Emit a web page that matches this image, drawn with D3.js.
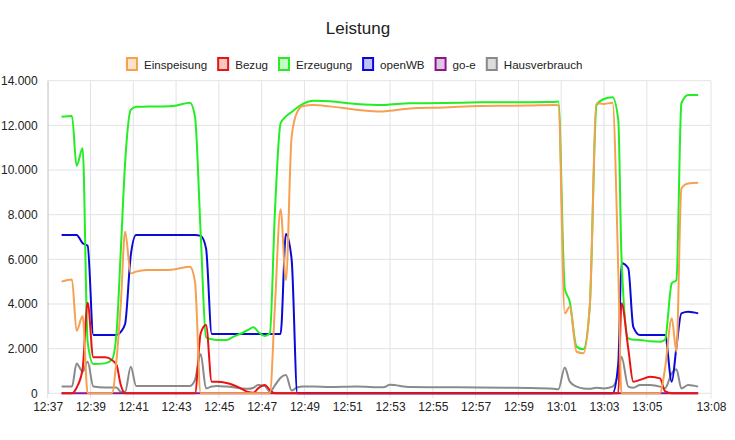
<!DOCTYPE html>
<html>
<head>
<meta charset="utf-8">
<script src="https://cdn.jsdelivr.net/npm/d3@7"></script>
<style>
  html, body { margin: 0; padding: 0; background: #fff; }
  svg { display: block; font-family: "Liberation Sans", Arial, sans-serif; }
</style>
</head>
<body>
<svg id="chart" width="735" height="440"></svg>
<script>
const title = "Leistung";
const times = [
  "12:37:39","12:38:08","12:38:21","12:38:38","12:38:52","12:39:08","12:39:41","12:40:00","12:40:13","12:40:25",
  "12:40:37","12:40:53","12:41:08","12:41:38","12:42:24","12:42:57","12:43:39","12:43:53","12:44:09","12:44:24",
  "12:44:40","12:44:54","12:45:22","12:45:40","12:46:04","12:46:22","12:46:37","12:46:50","12:47:09","12:47:23",
  "12:47:37","12:47:53","12:48:08","12:48:24","12:48:40","12:48:56","12:49:25","12:50:11","12:51:26","12:52:41",
  "12:53:00","12:53:56","12:55:30","12:57:12","12:58:30","12:59:30","13:00:38","13:00:52","13:01:10","13:01:24",
  "13:01:43","13:02:02","13:02:20","13:02:39","13:02:58","13:03:24","13:03:40","13:03:49","13:04:08","13:04:22",
  "13:04:41","13:05:09","13:05:37","13:05:51","13:06:10","13:06:23","13:06:37","13:06:56","13:07:24"
];
const einspeisung = [
  5000,5100,2800,3460,0,0,0,0,1500,4000,
  7240,5370,5450,5520,5520,5560,5670,5000,0,0,
  0,0,0,0,0,0,0,0,0,0,
  3860,8240,5070,11490,12610,12870,12910,12850,12700,12620,
  12650,12760,12800,12870,12880,12890,12910,12900,3580,3880,
  1860,1790,3880,12990,12960,13010,5500,0,0,0,
  0,0,0,1100,3360,1860,9180,9400,9430
];
const bezug = [
  0,0,250,1100,4060,1610,1610,1490,1270,370,
  0,0,0,0,0,0,0,0,2690,3060,
  520,520,460,370,200,60,30,220,370,150,
  0,0,0,0,0,0,0,0,0,0,
  0,0,0,0,0,0,0,0,0,0,
  0,0,0,0,0,0,0,4030,2000,520,
  600,740,670,100,0,0,0,0,0
];
const erzeugung = [
  12390,12420,10190,10970,2300,1310,1340,1500,2700,6400,
  10300,12690,12830,12840,12850,12880,13010,12390,7150,2500,
  2420,2390,2390,2530,2690,2840,2960,2760,2570,2690,
  8080,12090,12400,12600,12800,12960,13100,13080,12960,12910,
  12930,12990,13000,13030,13040,13040,13045,13070,4700,4100,
  2090,1970,3880,12910,13170,13260,12240,6100,2460,2400,
  2390,2330,2310,2400,4930,5070,12990,13360,13360
];
const openWB = [
  7090,7090,7090,6720,6610,2610,2610,2610,2610,2750,
  3100,6190,7090,7090,7090,7090,7090,7090,7050,6490,
  2660,2660,2660,2660,2660,2660,2660,2660,2660,2660,
  2660,2660,7130,6000,0,0,0,0,0,0,
  0,0,0,0,0,0,0,0,0,0,
  0,0,0,0,0,0,1340,5820,5600,2980,
  2610,2610,2610,2610,520,2060,3580,3650,3580
];
const goE = [
  0,0,0,0,0,0,0,0,0,0,
  0,0,0,0,0,0,0,0,0,0,
  0,0,0,0,0,0,0,0,0,0,
  0,0,0,0,0,0,0,0,0,0,
  0,0,0,0,0,0,0,0,0,0,
  0,0,0,0,0,0,0,0,0,0,
  0,0,0,0,0,0,0,0,0
];
const hausverbrauch = [
  300,300,1340,970,1410,300,260,260,260,70,
  70,1190,330,330,330,330,330,600,1760,220,
  300,330,300,270,220,200,250,370,330,70,
  350,700,820,120,270,300,300,280,300,270,
  380,280,270,260,250,240,200,180,1160,520,
  300,220,200,250,220,300,900,1640,300,250,
  370,370,300,220,900,1075,220,370,300
];
const seriesNames = ["Einspeisung","Bezug","Erzeugung","openWB","go-e","Hausverbrauch"];
const xTickLabels = ["12:37","12:39","12:41","12:43","12:45","12:47","12:49","12:51","12:53","12:55","12:57","12:59","13:01","13:03","13:05","13:08"];
const xDomain = ["12:37:00","13:08:00"];
const yTicks = [0,2000,4000,6000,8000,10000,12000,14000];

const seriesValues = [einspeisung, bezug, erzeugung, openWB, goE, hausverbrauch];
const lineColors = ["#f7a052","#e81414","#22ee22","#0a0ad8","#8a168a","#8a8a8a"];
const fillColors = ["rgba(247,160,82,0.3)","rgba(232,20,20,0.25)","rgba(34,238,34,0.25)","rgba(10,10,216,0.25)","rgba(138,22,138,0.25)","rgba(138,138,138,0.3)"];

const parseT = d3.timeParse("%H:%M:%S");
const parseTick = d3.timeParse("%H:%M");
const svg = d3.select("#chart");

const pLeft = 47.7, pRight = 711, pTop = 80.7, pBottom = 393.3;
const x = d3.scaleTime().domain(xDomain.map(parseT)).range([pLeft, pRight]);
const y = d3.scaleLinear().domain([0, 14000]).range([pBottom, pTop]);

const de = d3.formatLocale({decimal: ",", thousands: ".", grouping: [3], currency: ["", "€"]});
const fmt = de.format(",d");

// grid
const grid = svg.append("g");
grid.selectAll("line.h").data(yTicks).enter().append("line")
  .attr("x1", pLeft).attr("x2", pRight)
  .attr("y1", d => y(d)).attr("y2", d => y(d))
  .attr("stroke", "#e3e3e3").attr("stroke-width", 1);
const xTickDates = xTickLabels.map(parseTick);
grid.selectAll("line.v").data(xTickDates).enter().append("line")
  .attr("x1", d => x(d)).attr("x2", d => x(d))
  .attr("y1", pTop).attr("y2", pBottom + 5)
  .attr("stroke", "#e3e3e3").attr("stroke-width", 1);

// axes
const yAxis = d3.axisLeft(y).tickValues(yTicks).tickFormat(fmt).tickSize(0).tickPadding(10);
const gy = svg.append("g").attr("transform", `translate(${pLeft},0)`).call(yAxis);
gy.select(".domain").attr("stroke", "#d0d0d0");
gy.selectAll("text").attr("font-size", 12).attr("fill", "#222").attr("font-family", "Liberation Sans, Arial, sans-serif");

const xAxis = d3.axisBottom(x).tickValues(xTickDates).tickFormat(d3.timeFormat("%H:%M")).tickSize(0).tickPadding(9);
const gx = svg.append("g").attr("transform", `translate(0,${pBottom})`).call(xAxis);
gx.select(".domain").remove();
gx.selectAll("text").attr("font-size", 12).attr("fill", "#222").attr("font-family", "Liberation Sans, Arial, sans-serif");

// lines (first dataset drawn on top)
const tDates = times.map(parseT);
const line = d3.line().x((d, i) => x(tDates[i])).y(d => y(d)).curve(d3.curveMonotoneX);
for (let k = seriesValues.length - 1; k >= 0; k--) {
  svg.append("path").datum(seriesValues[k])
    .attr("d", line).attr("fill", "none")
    .attr("stroke", lineColors[k]).attr("stroke-width", 2)
    .attr("stroke-linejoin", "round");
}

// title
svg.append("text").attr("x", 358).attr("y", 34).attr("text-anchor", "middle")
  .attr("font-size", 17).attr("fill", "#222").text(title);

// legend
const lg = svg.append("g");
let cx = 0;
seriesNames.forEach((name, i) => {
  const g = lg.append("g");
  g.append("rect").attr("x", cx + 1).attr("y", 58).attr("width", 10).attr("height", 12)
    .attr("fill", fillColors[i]).attr("stroke", lineColors[i]).attr("stroke-width", 2);
  const t = g.append("text").attr("x", cx + 18).attr("y", 68.5).attr("font-size", 11.6)
    .attr("fill", "#222").text(name);
  const w = t.node().getComputedTextLength();
  cx += 18 + w + 10;
});
const totalW = cx - 10;
lg.attr("transform", `translate(${354.2 - totalW / 2},0)`);
</script>
</body>
</html>
